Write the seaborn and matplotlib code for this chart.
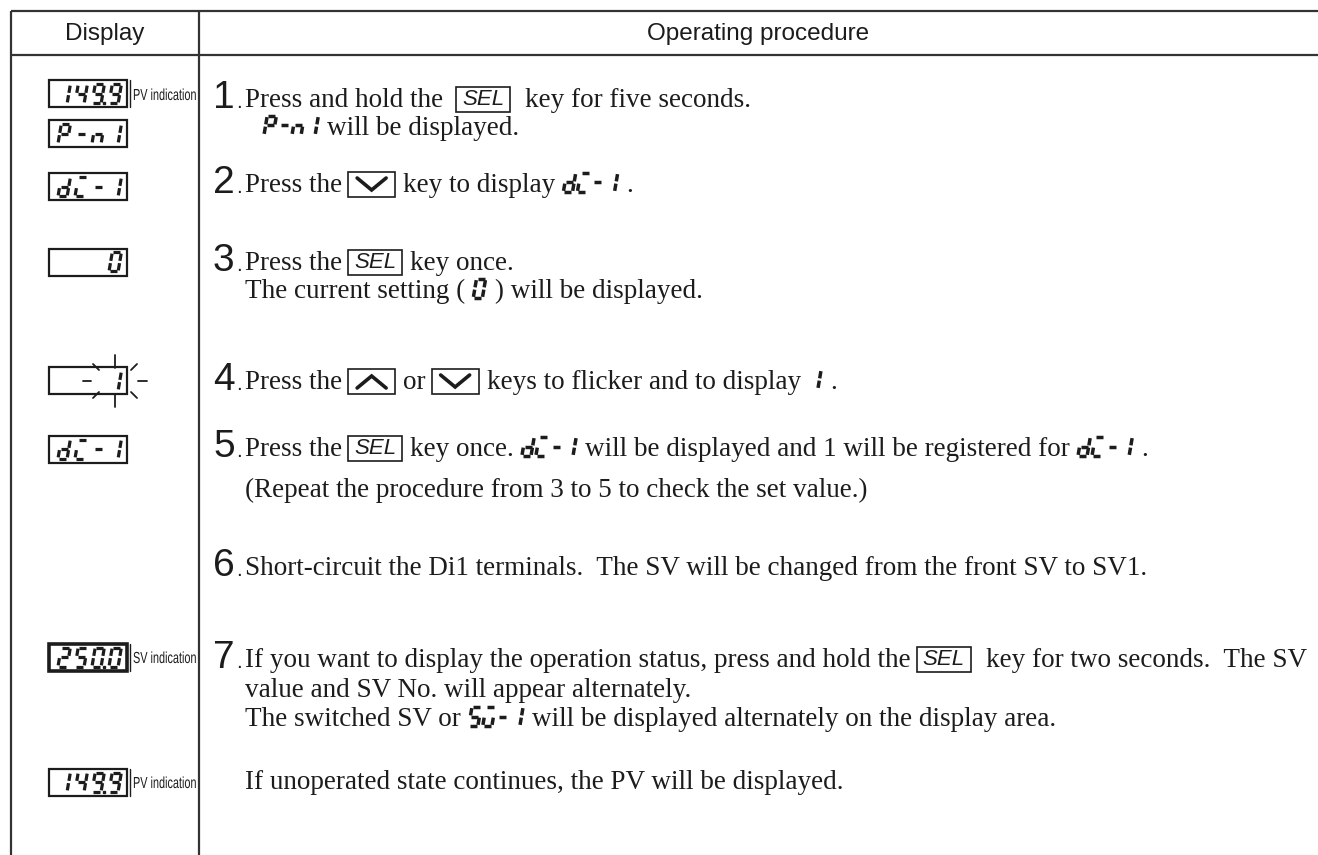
import numpy as np
import matplotlib
matplotlib.use('Agg')
from matplotlib import pyplot as plt
from matplotlib.patches import Rectangle, PathPatch
from matplotlib.textpath import TextPath
from matplotlib.font_manager import FontProperties
from matplotlib.transforms import Affine2D
import seaborn as sns

W, H = 1318, 855

# ---- content ----
header_labels = ['Display', 'Operating procedure']

display_codes = ['149.9', 'P-n1', 'di-1', '0', '1', 'di-1', '250.0', '149.9']
display_notes = ['PV indication', '', '', '', '', '', 'SV indication', 'PV indication']
display_flicker = [False, False, False, False, True, False, False, False]
display_bold = [False, False, False, False, False, False, True, False]

line_steps = ['1', '', '2', '3', '', '4', '5', '', '6', '7', '', '', '']
procedure_tokens = [
    ['Press and hold the ', ('key', 'SEL'), ' key for five seconds.'],
    [('seg', 'P-n1'), 'will be displayed.'],
    ['Press the', ('down',), 'key to display', ('seg', 'di-1'), '.'],
    ['Press the', ('key', 'SEL'), 'key once.'],
    ['The current setting (', ('seg', '0'), ') will be displayed.'],
    ['Press the', ('up',), 'or', ('down',), 'keys to flicker and to display', ('seg', '1'), '.'],
    ['Press the', ('key', 'SEL'), 'key once.', ('seg', 'di-1'),
     'will be displayed and 1 will be registered for', ('seg', 'di-1'), '.'],
    ['(Repeat the procedure from 3 to 5 to check the set value.)'],
    ['Short-circuit the Di1 terminals.  The SV will be changed from the front SV to SV1.'],
    ['If you want to display the operation status, press and hold the', ('key', 'SEL'),
     ' key for two seconds.  The SV'],
    ['value and SV No. will appear alternately.'],
    ['The switched SV or', ('seg', '5u-1'), 'will be displayed alternately on the display area.'],
    ['If unoperated state continues, the PV will be displayed.'],
]

# ---- layout (pixels from top-left) ----
display_y = [94, 134, 187, 262, 381, 449, 657, 782]
line_y = [100, 128, 185, 263, 291, 382, 449, 490, 568, 660, 690, 719, 782]
line_x = [245, 262, 245, 245, 245, 245, 245, 245, 245, 245, 245, 245, 245]

INK = '#1c1c1c'
SERIF = ['Liberation Serif', 'DejaVu Serif']
SANS = ['Liberation Sans', 'DejaVu Sans']

SEGS = {'a': ((0.12, 1), (0.88, 1)), 'b': ((1, 0.94), (1, 0.56)),
        'c': ((1, 0.44), (1, 0.06)), 'd': ((0.12, 0), (0.88, 0)),
        'e': ((0, 0.44), (0, 0.06)), 'f': ((0, 0.94), (0, 0.56)),
        'g': ((0.12, 0.5), (0.88, 0.5))}
CHARS = {'0': 'abcdef', '1': 'bc', '2': 'abdeg', '4': 'bcfg', '5': 'acdfg',
         '9': 'abcdfg', 'P': 'abefg', '-': 'g', 'n': 'ceg', 'd': 'bcdeg',
         'i': 'ade', 'u': 'acde', ' ': ''}

sns.set_theme(style='white')
plt.rcParams['font.family'] = SERIF

fig = plt.figure(figsize=(W / 100, H / 100), dpi=100)
ax = fig.add_axes([0, 0, 1, 1])
ax.set_xlim(0, W)
ax.set_ylim(H, 0)
ax.axis('off')
renderer = fig.canvas.get_renderer()


def width_of(t):
    return t.get_window_extent(renderer=renderer).width


def parse_cells(code):
    cells = []
    for ch in code:
        if ch == '.' and cells:
            cells[-1][1] = True
        else:
            cells.append([ch, False])
    return cells


def draw_glyph(x, yb, h, ch, lw, dot=False):
    w = 0.48 * h
    sk = 0.17 * h
    for s in CHARS.get(ch, ''):
        (u0, v0), (u1, v1) = SEGS[s]
        ax.plot([x + u0 * w + v0 * sk, x + u1 * w + v1 * sk],
                [yb - v0 * h, yb - v1 * h], color=INK, lw=lw, solid_capstyle='butt')
    if dot:
        ax.plot([x + w + 3], [yb], marker='s', ms=lw * 0.9, color=INK, mec=INK)


def draw_seg_text(x, yb, h, code, pitch, lw):
    cells = parse_cells(code)
    for i, (ch, dot) in enumerate(cells):
        draw_glyph(x + i * pitch, yb, h, ch, lw, dot)
    return pitch * (len(cells) - 1) + 0.48 * h + 0.17 * h


def narrow_text(x, yb, s, size=16, squeeze=0.68):
    tp = TextPath((0, 0), s, size=size, prop=FontProperties(family=SANS))
    tr = Affine2D().scale(squeeze, -1).translate(x, yb) + ax.transData
    ax.add_patch(PathPatch(tp, transform=tr, fc=INK, ec='none'))


# ---- table frame ----
line_kw = dict(color='#333333', lw=1.6, solid_capstyle='butt')
ax.plot([11, W], [11, 11], **line_kw)
ax.plot([11, W], [55, 55], **line_kw)
ax.plot([11, 11], [11, H], **line_kw)
ax.plot([199, 199], [11, H], **line_kw)
ax.text(105, 34, header_labels[0], ha='center', va='center', fontsize=17.5,
        family=SANS, color=INK)
ax.text(758, 34, header_labels[1], ha='center', va='center', fontsize=17.5,
        family=SANS, color=INK)

# ---- display column ----
bx, bw, bh = 49, 78, 27
for code, note, cy, flick, bold in zip(display_codes, display_notes, display_y,
                                        display_flicker, display_bold):
    ax.add_patch(Rectangle((bx, cy - bh / 2), bw, bh, fill=False, ec=INK,
                           lw=2.6 if bold else 1.6))
    cells = parse_cells(code)
    gh, pitch = 19, 17
    last_x = bx + bw - 18
    yb = cy + gh / 2
    for i, (ch, dot) in enumerate(cells):
        draw_glyph(last_x - (len(cells) - 1 - i) * pitch, yb, gh, ch, 2.3, dot)
    if note:
        ax.plot([bx + bw + 3, bx + bw + 3], [cy - bh / 2, cy + bh / 2], color=INK, lw=1)
        narrow_text(bx + bw + 6, cy + 6, note)
    if flick:
        cx = last_x + 6
        rays = [((-32, 0), (-24, 0)), ((23, 0), (32, 0)),
                ((0, -26), (0, -13)), ((0, 13), (0, 26)),
                ((-22, -17), (-16, -11)), ((16, -11), (22, -17)),
                ((-22, 17), (-16, 11)), ((16, 11), (22, 17))]
        for (x0, y0), (x1, y1) in rays:
            ax.plot([cx + x0, cx + x1], [cy + y0, cy + y1], color=INK, lw=1.3)

# ---- procedure column ----
GAP = 6
for step, tokens, ly, lx in zip(line_steps, procedure_tokens, line_y, line_x):
    yb = ly + 7
    if step:
        t = ax.text(213, yb + 1, step, ha='left', va='baseline', fontsize=28,
                    family=SANS, color=INK)
        ax.text(213 + width_of(t) + 1, yb + 1, '.', ha='left', va='baseline',
                fontsize=15, family=SANS, color=INK)
    x = lx
    for tok in tokens:
        if isinstance(tok, str):
            lead = len(tok) - len(tok.lstrip(' '))
            trail = len(tok) - len(tok.rstrip(' '))
            x += lead * 7
            t = ax.text(x, yb, tok.strip(' '), ha='left', va='baseline', fontsize=19.5,
                        color=INK)
            x += width_of(t) + GAP + trail * 7
        elif tok[0] == 'key':
            kw, kh = 54, 25
            ax.add_patch(Rectangle((x, yb - 20), kw, kh, fill=False, ec=INK, lw=1.2))
            ax.text(x + kw / 2, yb - 7.5, tok[1], ha='center', va='center', fontsize=16,
                    family=SANS, style='italic', color=INK)
            x += kw + GAP + 2
        elif tok[0] in ('up', 'down'):
            kw, kh = 47, 25
            top = yb - 20
            ax.add_patch(Rectangle((x, top), kw, kh, fill=False, ec=INK, lw=1.2))
            if tok[0] == 'down':
                ys = [top + 6, top + 18, top + 6]
            else:
                ys = [top + 19, top + 7, top + 19]
            ax.plot([x + 9, x + kw / 2, x + kw - 9], ys, color=INK, lw=2.6,
                    solid_joinstyle='miter')
            x += kw + GAP + 2
        else:
            code = tok[1]
            wseg = draw_seg_text(x + 2, yb, 19, code, 14, 2.5)
            x += wseg + GAP + 5

fig.savefig('out.png', dpi=100)
